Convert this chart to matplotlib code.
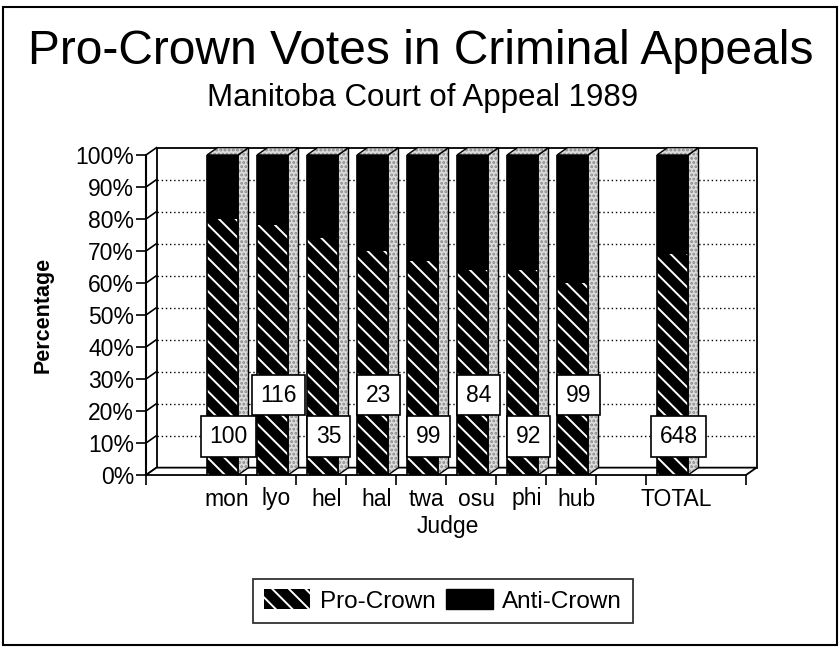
"""
Pro-Crown votes in criminal appeals, Manitoba Court of Appeal 1989.
Pseudo-3D stacked percentage bars, drawn by hand on a flat axes.
"""

import matplotlib
matplotlib.use("Agg")  # headless
import matplotlib.pyplot as plt
from matplotlib.patches import Patch, Polygon, Rectangle

plt.rcParams["font.family"] = ["Liberation Sans", "DejaVu Sans"]
plt.rcParams["hatch.linewidth"] = 1.4

# ── Data ──────────────────────────────────────────────────────────────────────
JUDGES = ["mon", "lyo", "hel", "hal", "twa", "osu", "phi", "hub", "TOTAL"]
PRO_PCT = [80, 78, 74, 70, 67, 64, 64, 60, 69]      # Pro-Crown share (%)
CASES = [100, 116, 35, 23, 99, 84, 92, 99, 648]     # votes per judge
Y_TICKS = [0, 10, 20, 30, 40, 50, 60, 70, 80, 90, 100]

# ── Layout (slot units on x, percent on y) ────────────────────────────────────
SLOTS = [1, 2, 3, 4, 5, 6, 7, 8, 10]   # slot 0, 9, 11 are empty
N_SLOTS = 12
BAR_OFF = 0.22
BAR_W = 0.62
DX, DY = 0.21, 2.3                     # oblique depth offset
GREY = "#dcdcdc"


def _poly(ax, pts, **kw):
    ax.add_patch(Polygon(pts, closed=True, clip_on=False, **kw))


def _stipple(ax, pts, z):
    # speckled grey face with a solid outline on top
    _poly(ax, pts, facecolor=GREY, edgecolor="#8a8a8a", hatch="....",
          lw=0, zorder=z)
    _poly(ax, pts, fill=False, edgecolor="black", lw=1, zorder=z)


def draw_walls(ax):
    # back wall gridlines (dotted) and outline
    for v in Y_TICKS[1:-1]:
        ax.plot([DX, N_SLOTS + DX], [v + DY, v + DY], color="black",
                lw=1, ls=(0, (1, 2)), clip_on=False, zorder=1)
    ax.plot([DX, DX, N_SLOTS + DX, N_SLOTS + DX],
            [DY, 100 + DY, 100 + DY, DY], color="black", lw=1.3,
            clip_on=False, zorder=1)
    # left wall: front axis + diagonals at each gridline
    ax.plot([0, 0], [0, 100], color="black", lw=1.5, clip_on=False, zorder=2)
    for v in Y_TICKS:
        ax.plot([0, DX], [v, v + DY], color="black", lw=1.2,
                clip_on=False, zorder=2)
    # floor
    _poly(ax, [(0, 0), (N_SLOTS, 0), (N_SLOTS + DX, DY), (DX, DY)],
          facecolor="white", edgecolor="black", lw=1.3, zorder=2)


def draw_bars(ax):
    for s, pro in zip(SLOTS, PRO_PCT):
        x0 = s + BAR_OFF
        x1 = x0 + BAR_W
        # side and top faces
        _stipple(ax, [(x1, 0), (x1 + DX, DY), (x1 + DX, 100 + DY), (x1, 100)], 3)
        _stipple(ax, [(x0, 100), (x1, 100), (x1 + DX, 100 + DY),
                      (x0 + DX, 100 + DY)], 3)
        # front face: hatched pro-crown, solid anti-crown
        ax.bar(x0, pro, width=BAR_W, align="edge", color="black",
               edgecolor="white", hatch="\\\\", linewidth=0, zorder=4)
        ax.bar(x0, 100 - pro, bottom=pro, width=BAR_W, align="edge",
               color="black", linewidth=0, zorder=4)
        ax.add_patch(Rectangle((x0, 0), BAR_W, 100, fill=False,
                               edgecolor="black", lw=1.2, zorder=5))


def draw_counts(ax):
    for i, (s, n) in enumerate(zip(SLOTS, CASES)):
        y = 12 if i % 2 == 0 else 25
        ax.text(s + BAR_OFF + BAR_W / 2 + 0.12, y, str(n), fontsize=16.5,
                ha="center", va="center", zorder=10,
                bbox=dict(boxstyle="square,pad=0.38", facecolor="white",
                          edgecolor="black", lw=1.2))


def main():
    fig = plt.figure(figsize=(8.4, 6.47), dpi=100)
    ax = fig.add_axes([146 / 840, 172 / 647, 600 / 840, 320 / 647])
    ax.set_xlim(0, N_SLOTS)
    ax.set_ylim(0, 100)
    for sp in ax.spines.values():
        sp.set_visible(False)

    draw_walls(ax)
    draw_bars(ax)
    draw_counts(ax)

    # x ticks: boundary marks (major) + judge names (minor, no mark)
    ax.set_xticks([0, 2, 3, 4, 5, 6, 7, 8, 9, 10, 12])
    ax.set_xticklabels([])
    ax.tick_params(axis="x", which="major", length=7, width=1.2,
                   direction="out")
    ax.set_xticks([s + BAR_OFF + BAR_W / 2 + 0.08 for s in SLOTS], minor=True)
    ax.set_xticklabels(JUDGES, minor=True, fontsize=16.5)
    ax.tick_params(axis="x", which="minor", length=0, pad=9)

    ax.set_yticks(Y_TICKS)
    ax.set_yticklabels([f"{v}%" for v in Y_TICKS], fontsize=16.5)
    ax.tick_params(axis="y", length=7, width=1.2, pad=1.5)

    fig.text(43 / 840, 1 - 315 / 647, "Percentage", rotation=90,
             fontsize=15.5, fontweight="bold", ha="center", va="center")
    fig.text(448 / 840, 1 - 527 / 647, "Judge", fontsize=16.5,
             ha="center", va="center")

    fig.text(0.501, 1 - 64 / 647, "Pro-Crown Votes in Criminal Appeals",
             fontsize=34.5, ha="center", va="baseline")
    fig.text(0.503, 1 - 106 / 647, "Manitoba Court of Appeal 1989",
             fontsize=22.5, ha="center", va="baseline")

    # legend
    handles = [
        Patch(facecolor="black", edgecolor="white", hatch="\\\\", lw=0),
        Patch(facecolor="black", edgecolor="black"),
    ]
    leg = fig.legend(handles, ["Pro-Crown", "Anti-Crown"], ncol=2,
                     loc="center", bbox_to_anchor=(443 / 840, 1 - 601 / 647),
                     fontsize=17.5, frameon=True, fancybox=False,
                     handlelength=1.9, handleheight=0.85, handletextpad=0.4,
                     columnspacing=0.45, borderpad=0.45)
    leg.get_frame().set_edgecolor("black")
    leg.get_frame().set_linewidth(1.3)

    # page border
    fig.add_artist(Rectangle((3 / 840, 2 / 647), 834 / 840, 638 / 647,
                             transform=fig.transFigure, fill=False,
                             edgecolor="black", lw=1.5))

    fig.savefig("out.png", dpi=100)
    plt.close(fig)


if __name__ == "__main__":
    main()
